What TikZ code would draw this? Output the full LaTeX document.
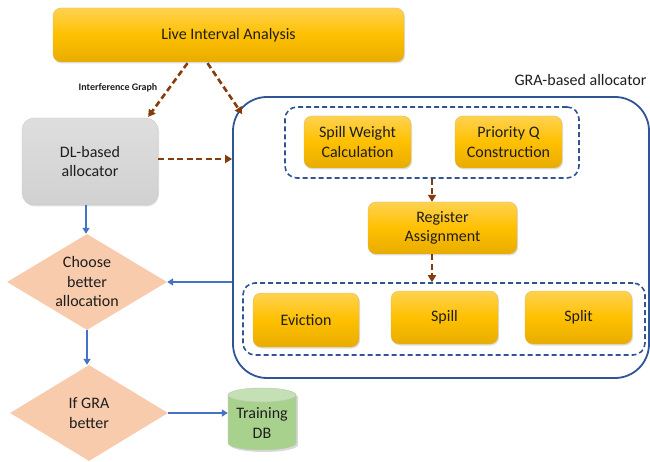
\documentclass[tikz,border=0pt]{standalone}
\usepackage{fontspec}
\setmainfont{Carlito}
\usetikzlibrary{shapes.geometric,arrows.meta,shadows,calc}
\definecolor{ybox}{RGB}{255,192,0}
\definecolor{ytop}{RGB}{255,210,80}
\definecolor{ybot}{RGB}{232,172,0}
\definecolor{brownar}{RGB}{132,60,12}
\definecolor{bluear}{RGB}{68,114,196}
\definecolor{grablue}{RGB}{47,85,151}
\definecolor{peach}{RGB}{248,203,173}
\definecolor{gbody}{RGB}{169,209,142}
\definecolor{gtop}{RGB}{197,224,180}
\definecolor{txt}{RGB}{30,30,30}
\tikzset{
  x=1pt,y=-1pt,
  every node/.style={text=txt,font=\fontsize{16}{19.5}\selectfont,align=center,inner sep=0pt},
  ybox/.style={rounded corners=8pt,top color=ytop,bottom color=ybot,middle color=ybox,
     draw=ybot!80!black!60,line width=0.3pt,
     drop shadow={opacity=0.25,shadow xshift=1pt,shadow yshift=-1.5pt}},
  graybox/.style={rounded corners=12pt,top color=black!13,bottom color=black!18,
     draw=black!22,line width=0.3pt,
     drop shadow={opacity=0.25,shadow xshift=1pt,shadow yshift=-1.5pt}},
  decision/.style={diamond,fill=peach,minimum width=160pt,minimum height=96pt},
  grpbox/.style={draw=grablue,dashed,dash pattern=on 5pt off 3pt,line width=1.6pt,rounded corners=12pt},
  brownarrow/.style={draw=brownar,line width=2.6pt,dash pattern=on 6pt off 3.5pt,
     -{Triangle[length=7pt,width=8pt]}},
  bluearrow/.style={draw=bluear,line width=1.6pt,-{Triangle[length=6pt,width=7pt]}},
  dbline/.style={draw=gbody!70!black!50,line width=0.5pt},
}
\begin{document}
\begin{tikzpicture}
\useasboundingbox (0,0) rectangle (650,462);
% outer GRA container
\node[draw=grablue,line width=1.8pt,rounded corners=34pt,minimum width=416pt,minimum height=281pt] (outer) at (441,237.5) {};
\node (gralabel) at (580.5,80) {GRA-based allocator};
% groups
\node[grpbox,minimum width=294pt,minimum height=71pt] (topgrp) at (432,142.5) {};
\node[grpbox,minimum width=402pt,minimum height=72pt] (botgrp) at (444,319) {};
% boxes
\node[ybox,minimum width=351pt,minimum height=54pt] (lia) at (228.5,35) {Live Interval Analysis};
\node[graybox,minimum width=136pt,minimum height=87pt] (dl) at (90,161.5) {DL-based\\allocator};
\node[ybox,minimum width=107pt,minimum height=52pt] (swc) at (357.5,142) {Spill Weight\\Calculation};
\node[ybox,minimum width=107pt,minimum height=52pt] (pqc) at (508.5,142) {Priority Q\\Construction};
\node[ybox,minimum width=149pt,minimum height=52pt] (ra) at (442.5,228) {Register\\Assignment};
\node[ybox,minimum width=106pt,minimum height=54pt] (evic) at (306,320) {Eviction};
\node[ybox,minimum width=107pt,minimum height=53pt] (spill) at (444.5,317.5) {Spill};
\node[ybox,minimum width=107pt,minimum height=53pt] (split) at (578.5,317.5) {Split};
% decisions
\node[decision,label={center:Choose\\better\\allocation}] (choose) at (87,282) {};
\node[decision,minimum width=158pt,label={center:If GRA\\better}] (ifgra) at (89,413) {};
% cylinder (drawn directly)
\fill[black,opacity=0.15] (230,396) -- (230,445) arc[start angle=180,end angle=360,x radius=34pt,y radius=7pt] -- (298,396) -- cycle;
\fill[gbody] (228,395) -- (228,443) arc[start angle=180,end angle=360,x radius=34pt,y radius=7pt] -- (296,395) -- cycle;
\draw[dbline] (228,395) -- (228,443) arc[start angle=180,end angle=360,x radius=34pt,y radius=7pt] -- (296,395);
\filldraw[fill=gtop,dbline] (262,395) ellipse[x radius=34pt,y radius=7pt];
\node[minimum width=68pt,minimum height=62pt] (db) at (262,419) {};
\node (dbtext) at (262,423) {Training\\DB};
% label
\node[font=\bfseries\fontsize{10}{12}\selectfont] (iglabel) at (118,88) {Interference Graph};
% connectors
\coordinate (grain) at ($(outer.north west)+(10,18)$);
\draw[brownarrow] ($(lia.south)+(-41,1)$) -- ($(dl.north east)+(-10,-1)$);
\draw[brownarrow] ($(lia.south)+(-21,1)$) -- (grain);
\draw[brownarrow] ($(dl.east)+(0,-2.5)$) -- ($(dl.east -| outer.west)+(0,-2.5)$);
\draw[brownarrow] (topgrp.south) -- (topgrp.south |- ra.north);
\draw[brownarrow] (topgrp.south |- ra.south) -- (topgrp.south |- botgrp.north);
\draw[bluearrow] ($(dl.south)+(-4,0)$) -- (choose.north -| {$(dl.south)+(-4,0)$});
\draw[bluearrow] (choose.east -| outer.west) -- (choose.east);
\draw[bluearrow] (choose.south) -- (ifgra.north -| choose.south);
\draw[bluearrow] (ifgra.east) -- (ifgra.east -| db.west);
\end{tikzpicture}
\end{document}
